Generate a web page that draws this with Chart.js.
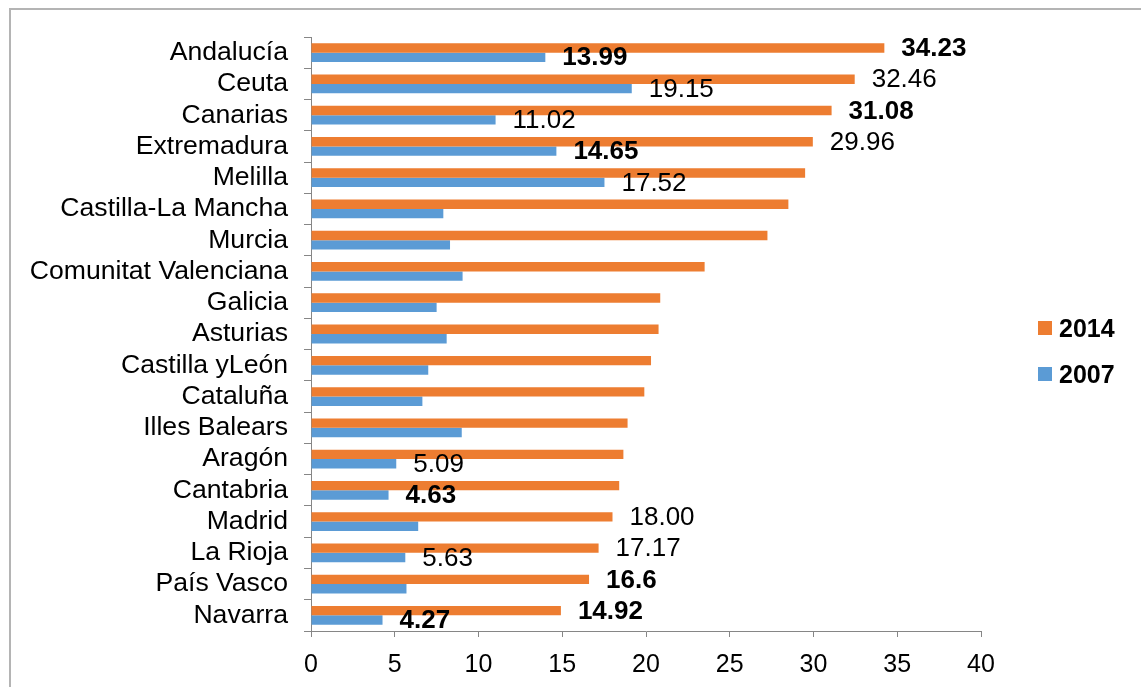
<!DOCTYPE html>
<html lang="es">
<head>
<meta charset="utf-8">
<title>Tasa por comunidad autónoma, 2007 y 2014</title>
<script src="https://cdn.jsdelivr.net/npm/chart.js@4/dist/chart.umd.min.js"></script>
<style>
    html, body { margin: 0; padding: 0; background: #fff; }
    #wrap { position: relative; width: 1141px; height: 687px; overflow: hidden; }
    #frame {
        position: absolute; left: 9px; top: 8px; width: 1200px; height: 800px;
        border-left: 2px solid #b4b4b4; border-top: 2px solid #b4b4b4;
    }
    #chart { position: absolute; left: 0; top: 0; }
    #legend { position: absolute; left: 1038px; top: 316px; font-family: "Liberation Sans", Arial, sans-serif; }
    .lg-item { display: flex; align-items: center; height: 24px; margin-bottom: 22px; }
    .lg-box { width: 14px; height: 14px; margin-right: 7px; }
    .lg-text { font-size: 25px; font-weight: bold; color: #000; }
</style>
</head>
<body>
<div id="wrap">
    <div id="frame"></div>
    <canvas id="chart" width="1141" height="687"></canvas>
    <div id="legend"></div>
</div>
<script>
// --- Data ---
const regions = ['Andalucía', 'Ceuta', 'Canarias', 'Extremadura', 'Melilla', 'Castilla-La Mancha', 'Murcia',
    'Comunitat Valenciana', 'Galicia', 'Asturias', 'Castilla yLeón', 'Cataluña', 'Illes Balears', 'Aragón',
    'Cantabria', 'Madrid', 'La Rioja', 'País Vasco', 'Navarra'];

const values2014 = [34.23, 32.46, 31.08, 29.96, 29.5, 28.5, 27.25, 23.5, 20.85, 20.75, 20.3, 19.9, 18.9, 18.65, 18.4, 18.00, 17.17, 16.6, 14.92];
const values2007 = [13.99, 19.15, 11.02, 14.65, 17.52, 7.9, 8.3, 9.05, 7.5, 8.1, 7.0, 6.65, 9.0, 5.09, 4.63, 6.4, 5.63, 5.7, 4.27];

// decimals shown in the value label (null = no label), and which labels are bold
const decimals2014 = [2, 2, 2, 2, null, null, null, null, null, null, null, null, null, null, null, 2, 2, 1, 2];
const bold2014 = [true, false, true, false, false, false, false, false, false, false, false, false, false, false, false, false, false, true, true];
const decimals2007 = [2, 2, 2, 2, 2, null, null, null, null, null, null, null, null, 2, 2, null, 2, null, 2];
const bold2007 = [true, false, false, true, false, false, false, false, false, false, false, false, false, false, true, false, false, false, true];

const xTicks = [0, 5, 10, 15, 20, 25, 30, 35, 40];

const FONT = '"Liberation Sans", Arial, sans-serif';
const AXIS_GREY = '#868686';

Chart.defaults.font.family = FONT;
Chart.defaults.color = '#000';

// value labels to the right of each bar end
const barValueLabels = {
    id: 'barValueLabels',
    afterDatasetsDraw(chart) {
        const ctx = chart.ctx;
        chart.data.datasets.forEach((ds, di) => {
            const meta = chart.getDatasetMeta(di);
            meta.data.forEach((bar, i) => {
                const dec = ds.labelDecimals[i];
                if (dec === null) return;
                ctx.save();
                ctx.font = (ds.labelBold[i] ? 'bold ' : '') + '26px ' + FONT;
                ctx.fillStyle = '#000';
                ctx.textAlign = 'left';
                ctx.textBaseline = 'middle';
                ctx.fillText(ds.data[i].toFixed(dec), bar.x + 17, bar.y + 1);
                ctx.restore();
            });
        });
    }
};

const chart = new Chart(document.getElementById('chart'), {
    type: 'bar',
    data: {
        labels: regions,
        datasets: [
            { label: '2014', data: values2014, backgroundColor: '#ED7D31', labelDecimals: decimals2014, labelBold: bold2014,
              categoryPercentage: 0.6, barPercentage: 1.0 },
            { label: '2007', data: values2007, backgroundColor: '#5B9BD5', labelDecimals: decimals2007, labelBold: bold2007,
              categoryPercentage: 0.6, barPercentage: 1.0 }
        ]
    },
    options: {
        indexAxis: 'y',
        responsive: false,
        animation: false,
        layout: { padding: { top: 37, right: 160, bottom: 0, left: 0 } },
        plugins: {
            legend: { display: false },
            tooltip: { enabled: false }
        },
        scales: {
            x: {
                min: 0,
                max: 40,
                afterBuildTicks: (scale) => { scale.ticks = xTicks.map(v => ({ value: v })); },
                afterFit: (scale) => { scale.height = 56; },
                grid: { drawOnChartArea: false, tickLength: 6, color: AXIS_GREY },
                border: { color: AXIS_GREY, width: 1 },
                ticks: { font: { size: 25 }, padding: 13, color: '#000' }
            },
            y: {
                afterFit: (scale) => { scale.width = 311; },
                grid: { drawOnChartArea: false, tickLength: 7, color: AXIS_GREY, offset: true },
                border: { color: AXIS_GREY, width: 1 },
                ticks: { font: { size: 26.6 }, padding: 16, color: '#000', autoSkip: false }
            }
        }
    },
    plugins: [barValueLabels]
});

// --- Legend (built from the chart's datasets) ---
const legendEl = document.getElementById('legend');
chart.data.datasets.forEach(ds => {
    const item = document.createElement('div');
    item.className = 'lg-item';
    item.innerHTML = `<span class="lg-box" style="background:${ds.backgroundColor}"></span><span class="lg-text">${ds.label}</span>`;
    legendEl.appendChild(item);
});
</script>
</body>
</html>
